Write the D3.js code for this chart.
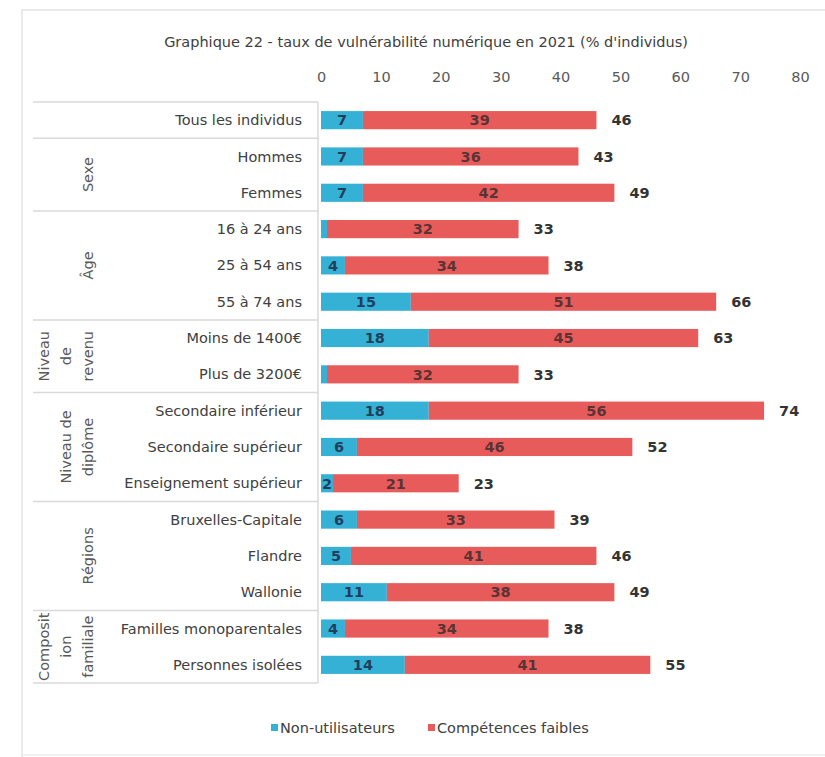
<!DOCTYPE html>
<html>
<head>
<meta charset="utf-8">
<script src="https://cdn.jsdelivr.net/npm/d3@7"></script>
<style>
  body { margin: 0; background: #fff; }
  text { font-family: "DejaVu Sans", Verdana, sans-serif; }
</style>
</head>
<body>
<svg id="chart" width="825" height="757"></svg>
<script>
// taux de vulnérabilité numérique 2021
const categories = ['Tous les individus', 'Hommes', 'Femmes', '16 à 24 ans', '25 à 54 ans', '55 à 74 ans',
  'Moins de 1400€', 'Plus de 3200€', 'Secondaire inférieur', 'Secondaire supérieur', 'Enseignement supérieur',
  'Bruxelles-Capitale', 'Flandre', 'Wallonie', 'Familles monoparentales', 'Personnes isolées']
const nonUsers = [7, 7, 7, 1, 4, 15, 18, 1, 18, 6, 2, 6, 5, 11, 4, 14]
const lowSkills = [39, 36, 42, 32, 34, 51, 45, 32, 56, 46, 21, 33, 41, 38, 34, 41]
const totals = [46, 43, 49, 33, 38, 66, 63, 33, 74, 52, 23, 39, 46, 49, 38, 55]
const groupLabels = [[], ['Sexe'], ['Âge'], ['Niveau', 'de', 'revenu'], ['Niveau de', 'diplôme'], ['Régions'], ['Composit', 'ion', 'familiale']]
const groupSizes = [1, 2, 3, 2, 3, 3, 2]
const tickValues = [0, 10, 20, 30, 40, 50, 60, 70, 80]
const seriesNames = ['Non-utilisateurs', 'Compétences faibles']

const colors = ['#36b1d6', '#e85b5b']
const fs = 14.5
const svg = d3.select('#chart')

const x = d3.scaleLinear().domain([0, 80]).range([321, 800])
const y = d3.scaleBand().domain(categories).range([102, 683]).paddingInner(0.5).paddingOuter(0.25)
const rowY = d3.scaleBand().domain(categories).range([102, 683])

// outer frame
svg.append('path').attr('d', 'M22,757 L22,10 L825,10')
  .attr('fill', 'none').attr('stroke', '#e3e3e3').attr('stroke-width', 1.5)
svg.append('line').attr('x1', 22).attr('x2', 825).attr('y1', 755).attr('y2', 755)
  .attr('stroke', '#eeeeee').attr('stroke-width', 1.5)

svg.append('text').attr('x', 426).attr('y', 47).attr('text-anchor', 'middle')
  .attr('font-size', fs).attr('fill', '#404040')
  .text('Graphique 22 - taux de vulnérabilité numérique en 2021 (% d\'individus)')

// axis on top, no line
const axis = svg.append('g').attr('transform', 'translate(0,82)')
  .call(d3.axisTop(x).tickValues(tickValues).tickSize(0).tickPadding(0))
axis.select('.domain').remove()
axis.selectAll('text').attr('font-size', fs).attr('fill', '#595959')
  .style('font-family', '"DejaVu Sans", Verdana, sans-serif')

// table lines
const table = svg.append('g')
let start = 0
table.append('line').attr('x1', 33).attr('x2', 318).attr('y1', 102).attr('y2', 102)
  .attr('stroke', '#d9d9d9').attr('stroke-width', 1.5)
groupSizes.forEach(function (n, gi) {
  const y0 = rowY(categories[start])
  const y1 = rowY(categories[start + n - 1]) + rowY.bandwidth()
  table.append('line').attr('x1', 33).attr('x2', 318).attr('y1', y1).attr('y2', y1)
    .attr('stroke', '#d9d9d9').attr('stroke-width', 1.5)
  const lines = groupLabels[gi]
  const yc = (y0 + y1) / 2
  lines.forEach(function (l, li) {
    const lx = 88 - (lines.length - 1 - li) * 22
    table.append('text').attr('transform', 'translate(' + lx + ',' + yc + ') rotate(-90)')
      .attr('text-anchor', 'middle').attr('dy', '0.35em')
      .attr('font-size', fs).attr('fill', '#595959').text(l)
  })
  start += n
})
table.append('line').attr('x1', 318).attr('x2', 318).attr('y1', 102).attr('y2', 683)
  .attr('stroke', '#d9d9d9').attr('stroke-width', 1.5)

// category labels
svg.append('g').selectAll('text').data(categories).enter().append('text')
  .attr('x', 302).attr('y', function (d) { return rowY(d) + rowY.bandwidth() / 2 })
  .attr('dy', '0.35em').attr('text-anchor', 'end')
  .attr('font-size', fs).attr('fill', '#404040').text(function (d) { return d })

// stacked bars
const rows = categories.map(function (c, i) {
  return { cat: c, segs: [[0, nonUsers[i]], [nonUsers[i], nonUsers[i] + lowSkills[i]]], vals: [nonUsers[i], lowSkills[i]], total: totals[i] }
})
const bars = svg.append('g')
rows.forEach(function (r) {
  r.segs.forEach(function (s, k) {
    bars.append('rect').attr('x', x(s[0])).attr('y', y(r.cat))
      .attr('width', x(s[1]) - x(s[0])).attr('height', y.bandwidth())
      .attr('fill', colors[k])
    if (r.vals[k] > 1) {
      bars.append('text').attr('x', (x(s[0]) + x(s[1])) / 2).attr('y', y(r.cat) + y.bandwidth() / 2)
        .attr('dy', '0.36em').attr('text-anchor', 'middle')
        .attr('font-size', fs).attr('font-weight', 'bold')
        .attr('fill', k === 0 ? '#1f3f5c' : '#5a3434').text(r.vals[k])
    }
  })
  bars.append('text').attr('x', x(r.segs[1][1]) + 15).attr('y', y(r.cat) + y.bandwidth() / 2)
    .attr('dy', '0.36em').attr('font-size', fs).attr('font-weight', 'bold')
    .attr('fill', '#333333').text(r.total)
})

// legend
const legendX = [271, 428]
const legend = svg.append('g')
seriesNames.forEach(function (n, i) {
  legend.append('rect').attr('x', legendX[i]).attr('y', 724).attr('width', 7).attr('height', 7)
    .attr('fill', colors[i])
  legend.append('text').attr('x', legendX[i] + 9).attr('y', 728).attr('dy', '0.35em')
    .attr('font-size', fs).attr('fill', '#404040').text(n)
})
</script>
</body>
</html>
